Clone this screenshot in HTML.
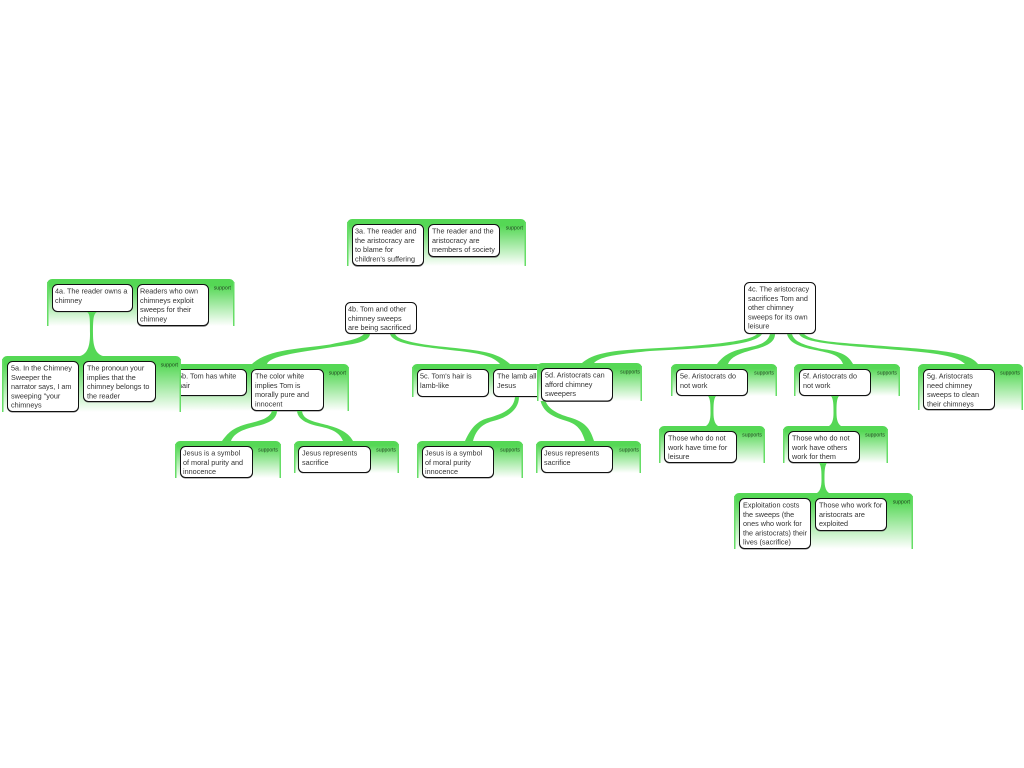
<!DOCTYPE html>
<html><head><meta charset="utf-8"><style>
html,body{margin:0;padding:0;background:#fff;width:1024px;height:768px;overflow:hidden}
svg{display:block;filter:blur(.3px)}
text{font-family:"Liberation Sans",sans-serif;font-size:7.25px;fill:#333}
text.l{font-size:5.2px;text-anchor:end;fill:#1f3f1f}
.b{fill:#fff;stroke:#111;stroke-width:1}
.s{fill:none;stroke:#777;stroke-width:1}
.r{fill:#55d855}
.e{fill:#66dd66}
</style></head><body>
<svg width="1024" height="768" viewBox="0 0 1024 768" xmlns="http://www.w3.org/2000/svg">
<defs>
<linearGradient id="g" x1="0" y1="0" x2="0" y2="1"><stop offset="0" stop-color="#55d855"/><stop offset=".14" stop-color="#55d855"/><stop offset="1" stop-color="#fff"/></linearGradient>
</defs>

<!-- 3a -->
<path d="M347,266V224a5,5 0 0 1 5,-5H521a5,5 0 0 1 5,5V266Z" fill="url(#g)"/><rect class="e" x="347" y="222" width="1.5" height="44"/><rect class="e" x="524.500" y="222" width="1.5" height="44"/>
<rect class="s" x="352.500" y="225.200" width="71" height="41" rx="5"/><rect class="b" x="352.500" y="224.500" width="71" height="41" rx="5"/>
<text><tspan x="355" y="233.500">3a. The reader and</tspan><tspan x="355" y="242.800">the aristocracy are</tspan><tspan x="355" y="252.100">to blame for</tspan><tspan x="355" y="261.400">children's suffering</tspan></text>
<rect class="s" x="428.500" y="225.200" width="71" height="32" rx="5"/><rect class="b" x="428.500" y="224.500" width="71" height="32" rx="5"/>
<text><tspan x="432" y="233.500">The reader and the</tspan><tspan x="432" y="242.800">aristocracy are</tspan><tspan x="432" y="252.100">members of society</tspan></text>
<text class="l" x="523" y="229.700">support</text>

<!-- 4a -->
<path d="M47,326V284a5,5 0 0 1 5,-5H229.500a5,5 0 0 1 5,5V326Z" fill="url(#g)"/><rect class="e" x="47" y="282" width="1.5" height="44"/><rect class="e" x="233" y="282" width="1.5" height="44"/>
<rect class="s" x="52.500" y="284.700" width="80" height="27" rx="5"/><rect class="b" x="52.500" y="284.500" width="80" height="27" rx="5"/>
<text><tspan x="55" y="293.500">4a. The reader owns a</tspan><tspan x="55" y="302.800">chimney</tspan></text>
<rect class="s" x="137.500" y="285.200" width="71" height="41" rx="5"/><rect class="b" x="137.500" y="284.500" width="71" height="41" rx="5"/>
<text><tspan x="140" y="293.500">Readers who own</tspan><tspan x="140" y="302.800">chimneys exploit</tspan><tspan x="140" y="312.100">sweeps for their</tspan><tspan x="140" y="321.400">chimney</tspan></text>
<text class="l" x="231" y="289.700">support</text>
<path class="r" d="M87,312H97C93.500,314 93,318 93,334C93,347 96,354 103,356H80C87,354 90,347 90,334C90,318 90,314 87,312Z"/>

<!-- 4b -->
<path class="r" d="M364,334C358,340 345,341 330,344.500C300,349 268,349 252,364H267C270,356 295,353 330,347.500C352,344 369,343 370,334Z"/>
<path class="r" d="M390,334C393,344 420,346.500 450,350C480,353 493,356 500,364H510C497,352 480,350.500 450,347.500C420,344.500 398,341 395,334Z"/>
<rect class="s" x="345.500" y="302.700" width="71" height="31" rx="5"/><rect class="b" x="345.500" y="302.500" width="71" height="31" rx="5"/>
<text><tspan x="348" y="311.500">4b. Tom and other</tspan><tspan x="348" y="320.800">chimney sweeps</tspan><tspan x="348" y="330.100">are being sacrificed</tspan></text>

<!-- 5b group -->
<path d="M170,411V369a5,5 0 0 1 5,-5H344a5,5 0 0 1 5,5V411Z" fill="url(#g)"/><rect class="e" x="347.500" y="367" width="1.5" height="44"/>
<rect class="s" x="175.500" y="369.700" width="71" height="26" rx="5"/><rect class="b" x="175.500" y="369.500" width="71" height="26" rx="5"/>
<text><tspan x="178" y="378.500">5b. Tom has white</tspan><tspan x="178" y="387.800">hair</tspan></text>
<rect class="s" x="251.500" y="370" width="72" height="41" rx="5"/><rect class="b" x="251.500" y="369.500" width="72" height="41" rx="5"/>
<text><tspan x="255" y="378.500">The color white</tspan><tspan x="255" y="387.800">implies Tom is</tspan><tspan x="255" y="397.100">morally pure and</tspan><tspan x="255" y="406.400">innocent</tspan></text>
<text class="l" x="346" y="374.700">support</text>
<path class="r" d="M272,411C269,420 255,421.500 245,424.500C232,428.500 228,433 222,441H231C234,433 243,429.500 255,426.500C268,423.500 276.500,420 277,411Z"/>
<path class="r" d="M297,411C298,421 310,424.500 322,427C335,430 340,434 343,441H353C348,431 335,427 323,424C311,421 303,419 302,411Z"/>

<!-- Jesus 1 -->
<path d="M175,478V446a5,5 0 0 1 5,-5H276a5,5 0 0 1 5,5V478Z" fill="url(#g)"/><rect class="e" x="175" y="444" width="1.5" height="34"/><rect class="e" x="279.500" y="444" width="1.5" height="34"/>
<rect class="s" x="180.500" y="447" width="72" height="31" rx="5"/><rect class="b" x="180.500" y="446.500" width="72" height="31" rx="5"/>
<text><tspan x="183" y="455.500">Jesus is a symbol</tspan><tspan x="183" y="464.800">of moral purity and</tspan><tspan x="183" y="474.100">innocence</tspan></text>
<text class="l" x="278" y="451.700">supports</text>

<!-- rep 1 -->
<path d="M294,473V446a5,5 0 0 1 5,-5H394a5,5 0 0 1 5,5V473Z" fill="url(#g)"/><rect class="e" x="294" y="444" width="1.5" height="29"/><rect class="e" x="397.500" y="444" width="1.5" height="29"/>
<rect class="s" x="298.500" y="446.800" width="72" height="26" rx="5"/><rect class="b" x="298.500" y="446.500" width="72" height="26" rx="5"/>
<text><tspan x="302" y="455.500">Jesus represents</tspan><tspan x="302" y="464.800">sacrifice</tspan></text>
<text class="l" x="396" y="451.700">supports</text>

<!-- 5c group -->
<path d="M412,397V369a5,5 0 0 1 5,-5H586a5,5 0 0 1 5,5V397Z" fill="url(#g)"/><rect class="e" x="412" y="367" width="1.5" height="30"/>
<rect class="s" x="417.500" y="369.700" width="71" height="27" rx="5"/><rect class="b" x="417.500" y="369.500" width="71" height="27" rx="5"/>
<text><tspan x="420" y="378.500">5c. Tom's hair is</tspan><tspan x="420" y="387.800">lamb-like</tspan></text>
<rect class="s" x="493.500" y="369.700" width="71" height="27" rx="5"/><rect class="b" x="493.500" y="369.500" width="71" height="27" rx="5"/>
<text><tspan x="497" y="378.500">The lamb alludes to</tspan><tspan x="497" y="387.800">Jesus</tspan></text>
<path class="r" d="M515,397C514,408 505,413 490,417.500C477,420.500 471,428 465,441H473C476,430 482,423.500 495,420.500C510,416.500 519,408 519,397Z"/>
<path class="r" d="M540,397C541,410 550,416 565,420.500C578,424 582,431 585,441H594C590,428 585,422 570,417.500C556,413.500 546,408 544.500,397Z"/>

<!-- Jesus 2 -->
<path d="M417,478V446a5,5 0 0 1 5,-5H518a5,5 0 0 1 5,5V478Z" fill="url(#g)"/><rect class="e" x="417" y="444" width="1.5" height="34"/><rect class="e" x="521.500" y="444" width="1.5" height="34"/>
<rect class="s" x="422.500" y="447" width="71" height="31" rx="5"/><rect class="b" x="422.500" y="446.500" width="71" height="31" rx="5"/>
<text><tspan x="425" y="455.500">Jesus is a symbol</tspan><tspan x="425" y="464.800">of moral purity</tspan><tspan x="425" y="474.100">innocence</tspan></text>
<text class="l" x="520" y="451.700">supports</text>

<!-- rep 2 -->
<path d="M536,473V446a5,5 0 0 1 5,-5H636a5,5 0 0 1 5,5V473Z" fill="url(#g)"/><rect class="e" x="536" y="444" width="1.5" height="29"/><rect class="e" x="639.500" y="444" width="1.5" height="29"/>
<rect class="s" x="541.500" y="446.800" width="71" height="26" rx="5"/><rect class="b" x="541.500" y="446.500" width="71" height="26" rx="5"/>
<text><tspan x="544" y="455.500">Jesus represents</tspan><tspan x="544" y="464.800">sacrifice</tspan></text>
<text class="l" x="639" y="451.700">supports</text>

<!-- 5a group -->
<path d="M2,412V361a5,5 0 0 1 5,-5H176a5,5 0 0 1 5,5V412Z" fill="url(#g)"/><rect class="e" x="2" y="359" width="1.5" height="53"/><rect class="e" x="179.500" y="359" width="1.5" height="53"/>
<rect class="s" x="7.500" y="362" width="71" height="50" rx="5"/><rect class="b" x="7.500" y="361.500" width="71" height="50" rx="5"/>
<text><tspan x="11" y="370.500">5a. In the Chimney</tspan><tspan x="11" y="379.800">Sweeper the</tspan><tspan x="11" y="389.100">narrator says, I am</tspan><tspan x="11" y="398.400">sweeping "your</tspan><tspan x="11" y="407.700">chimneys</tspan></text>
<rect class="s" x="83.500" y="362" width="72" height="40" rx="5"/><rect class="b" x="83.500" y="361.500" width="72" height="40" rx="5"/>
<text><tspan x="87" y="370.500">The pronoun your</tspan><tspan x="87" y="379.800">implies that the</tspan><tspan x="87" y="389.100">chimney belongs to</tspan><tspan x="87" y="398.400">the reader</tspan></text>
<text class="l" x="178" y="366.700">support</text>

<!-- 4c ribbons -->
<path class="r" d="M757,334C750,342 700,346 650,348.500C615,350.500 595,352 582,363H594C600,356 620,354 650,351C700,348.500 755,346 762,334Z"/>
<path class="r" d="M770,334C768,342 760,345 750,347C735,350 725,353 717,364H728C731,357 738,354 752,350C765,347 775,343 775,334Z"/>
<path class="r" d="M787,334C789,343 800,347 815,350C830,353 840,355 843,364H853C848,354 838,351 822,349C805,345.500 794,342 792,334Z"/>
<path class="r" d="M799,334C803,342 830,344.500 880,348.500C925,352 955,354 965,364H978C970,352.500 940,350 890,346.500C840,342.500 812,342 804,334Z"/>
<rect class="s" x="744.500" y="282.700" width="71" height="51" rx="5"/><rect class="b" x="744.500" y="282.500" width="71" height="51" rx="5"/>
<text><tspan x="748" y="291.500">4c. The aristocracy</tspan><tspan x="748" y="300.800">sacrifices Tom and</tspan><tspan x="748" y="310.100">other chimney</tspan><tspan x="748" y="319.400">sweeps for its own</tspan><tspan x="748" y="328.700">leisure</tspan></text>

<!-- 5d -->
<path d="M537,401V368a5,5 0 0 1 5,-5H637a5,5 0 0 1 5,5V401Z" fill="url(#g)"/><rect class="e" x="537" y="366" width="1.5" height="35"/><rect class="e" x="640.500" y="366" width="1.5" height="35"/>
<rect class="s" x="541.500" y="369" width="71" height="32.500" rx="5"/><rect class="b" x="541.500" y="368.500" width="71" height="32.500" rx="5"/>
<text><tspan x="545" y="377.500">5d. Aristocrats can</tspan><tspan x="545" y="386.800">afford chimney</tspan><tspan x="545" y="396.100">sweepers</tspan></text>
<text class="l" x="640" y="373.700">supports</text>

<!-- 5e -->
<path d="M671,396V369a5,5 0 0 1 5,-5H772a5,5 0 0 1 5,5V396Z" fill="url(#g)"/><rect class="e" x="671" y="367" width="1.5" height="29"/><rect class="e" x="775.500" y="367" width="1.5" height="29"/>
<rect class="s" x="676.500" y="369.700" width="71" height="26" rx="5"/><rect class="b" x="676.500" y="369.500" width="71" height="26" rx="5"/>
<text><tspan x="680" y="378.500">5e. Aristocrats do</tspan><tspan x="680" y="387.800">not work</tspan></text>
<text class="l" x="774" y="374.700">supports</text>
<path class="r" d="M708,396H716C713.500,399 713.500,405 713.500,413C713.500,420 715,424 718,426H706C709,424 710.500,420 710.500,413C710.500,405 710.500,399 708,396Z"/>

<!-- 5f -->
<path d="M794,396V369a5,5 0 0 1 5,-5H895a5,5 0 0 1 5,5V396Z" fill="url(#g)"/><rect class="e" x="794" y="367" width="1.5" height="29"/><rect class="e" x="898.500" y="367" width="1.5" height="29"/>
<rect class="s" x="799.500" y="369.700" width="71" height="26" rx="5"/><rect class="b" x="799.500" y="369.500" width="71" height="26" rx="5"/>
<text><tspan x="803" y="378.500">5f. Aristocrats do</tspan><tspan x="803" y="387.800">not work</tspan></text>
<text class="l" x="897" y="374.700">supports</text>
<path class="r" d="M831,396H839C836.500,399 836.500,405 836.500,413C836.500,420 838,424 841,426H829C832,424 833.500,420 833.500,413C833.500,405 833.500,399 831,396Z"/>

<!-- 5g -->
<path d="M918,410V369a5,5 0 0 1 5,-5H1018a5,5 0 0 1 5,5V410Z" fill="url(#g)"/><rect class="e" x="918" y="367" width="1.5" height="43"/><rect class="e" x="1021.500" y="367" width="1.5" height="43"/>
<rect class="s" x="923.500" y="370" width="71" height="40" rx="5"/><rect class="b" x="923.500" y="369.500" width="71" height="40" rx="5"/>
<text><tspan x="927" y="378.500">5g. Aristocrats</tspan><tspan x="927" y="387.800">need chimney</tspan><tspan x="927" y="397.100">sweeps to clean</tspan><tspan x="927" y="406.400">their chimneys</tspan></text>
<text class="l" x="1020" y="374.700">supports</text>

<!-- those 1 -->
<path d="M659,463V431a5,5 0 0 1 5,-5H760a5,5 0 0 1 5,5V463Z" fill="url(#g)"/><rect class="e" x="659" y="429" width="1.5" height="34"/><rect class="e" x="763.500" y="429" width="1.5" height="34"/>
<rect class="s" x="664.500" y="432" width="72" height="31" rx="5"/><rect class="b" x="664.500" y="431.500" width="72" height="31" rx="5"/>
<text><tspan x="668" y="440.500">Those who do not</tspan><tspan x="668" y="449.800">work have time for</tspan><tspan x="668" y="459.100">leisure</tspan></text>
<text class="l" x="762" y="436.700">supports</text>

<!-- those 2 -->
<path d="M783,463V431a5,5 0 0 1 5,-5H883a5,5 0 0 1 5,5V463Z" fill="url(#g)"/><rect class="e" x="783" y="429" width="1.5" height="34"/><rect class="e" x="886.500" y="429" width="1.5" height="34"/>
<rect class="s" x="788.500" y="432" width="71" height="31" rx="5"/><rect class="b" x="788.500" y="431.500" width="71" height="31" rx="5"/>
<text><tspan x="792" y="440.500">Those who do not</tspan><tspan x="792" y="449.800">work have others</tspan><tspan x="792" y="459.100">work for them</tspan></text>
<text class="l" x="885" y="436.700">supports</text>
<path class="r" d="M819,463H827C824.500,466 824.500,472 824.500,480C824.500,487 826,491 829,493H817C820,491 821.500,487 821.500,480C821.500,472 821.500,466 819,463Z"/>

<!-- exploit -->
<path d="M734,549V498a5,5 0 0 1 5,-5H908a5,5 0 0 1 5,5V549Z" fill="url(#g)"/><rect class="e" x="734" y="496" width="1.5" height="53"/><rect class="e" x="911.500" y="496" width="1.5" height="53"/>
<rect class="s" x="739.500" y="499" width="71" height="50" rx="5"/><rect class="b" x="739.500" y="498.500" width="71" height="50" rx="5"/>
<text><tspan x="743" y="507.500">Exploitation costs</tspan><tspan x="743" y="516.800">the sweeps (the</tspan><tspan x="743" y="526.100">ones who work for</tspan><tspan x="743" y="535.400">the aristocrats) their</tspan><tspan x="743" y="544.700">lives (sacrifice)</tspan></text>
<rect class="s" x="815.500" y="499" width="71" height="32" rx="5"/><rect class="b" x="815.500" y="498.500" width="71" height="32" rx="5"/>
<text><tspan x="819" y="507.500">Those who work for</tspan><tspan x="819" y="516.800">aristocrats are</tspan><tspan x="819" y="526.100">exploited</tspan></text>
<text class="l" x="910" y="503.700">support</text>
</svg>
</body></html>
